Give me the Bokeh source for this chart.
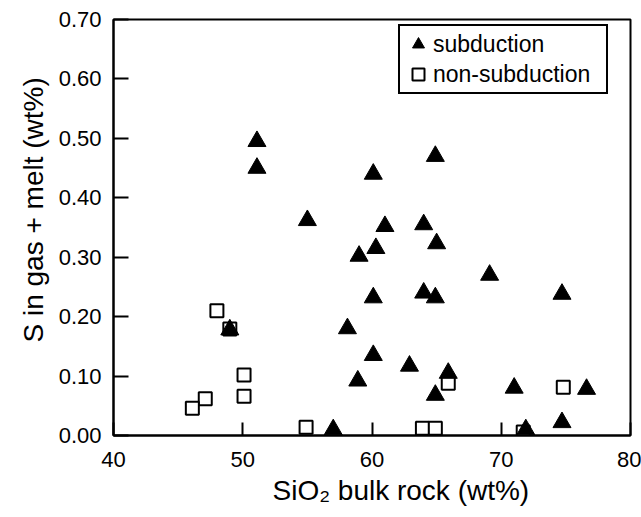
from bokeh.plotting import figure
from bokeh.models import Legend, LegendItem, FixedTicker, PrintfTickFormatter, Range1d, Title
from bokeh.embed import file_html
from bokeh.resources import INLINE

# ---- data ----
sub_sio2 = [51.1, 51.1, 55.0, 60.1, 64.9, 61.0, 64.0, 59.0, 60.3, 65.0, 69.1, 64.0, 64.9, 60.1,
            74.7, 58.1, 49.0, 60.1, 62.9, 58.9, 65.9, 64.9, 71.0, 76.6, 74.7, 57.0, 71.9]
sub_s = [0.495, 0.45, 0.362, 0.44, 0.47, 0.352, 0.355, 0.302, 0.315, 0.323, 0.27, 0.24, 0.232, 0.232,
         0.238, 0.18, 0.178, 0.135, 0.117, 0.092, 0.105, 0.068, 0.08, 0.078, 0.022, 0.01, 0.01]

non_sio2 = [48.0, 49.0, 50.1, 50.1, 47.1, 46.1, 54.9, 65.9, 74.8, 63.9, 64.9, 71.7]
non_s = [0.21, 0.179, 0.102, 0.066, 0.062, 0.046, 0.014, 0.088, 0.081, 0.012, 0.012, 0.006]

x_ticks = [40, 50, 60, 70, 80]
y_ticks = [0.0, 0.1, 0.2, 0.3, 0.4, 0.5, 0.6, 0.7]

x_title = "SiO₂ bulk rock (wt%)"
y_title = "S in gas + melt (wt%)"

FONT = "Liberation Sans"

p = figure(width=641, height=517, output_backend="svg", toolbar_location=None,
           x_range=Range1d(40, 80), y_range=Range1d(0, 0.70),
           min_border_left=113, min_border_right=11, min_border_top=19, min_border_bottom=82)

p.xgrid.visible = False
p.ygrid.visible = False
p.outline_line_color = "black"
p.outline_line_width = 2
p.background_fill_color = "white"
p.border_fill_color = "white"

sq = p.scatter(non_sio2, non_s, marker="square", size=13, fill_color="white",
               line_color="black", line_width=2)
tri = p.scatter(sub_sio2, sub_s, marker="triangle", size=18, fill_color="black",
                line_color="black", line_width=1)

for ax in (p.xaxis[0], p.yaxis[0]):
    ax.axis_line_width = 2
    ax.axis_line_color = "black"
    ax.major_tick_line_width = 2
    ax.major_tick_line_color = "black"
    ax.major_tick_out = 0
    ax.minor_tick_in = 0
    ax.minor_tick_out = 0
    ax.major_label_text_font = FONT
    ax.major_label_text_font_size = "22px"
    ax.major_label_text_color = "black"

p.xaxis[0].ticker = FixedTicker(ticks=x_ticks)
p.xaxis[0].major_tick_in = 13
p.xaxis[0].major_label_standoff = 16

p.yaxis[0].ticker = FixedTicker(ticks=y_ticks)
p.yaxis[0].formatter = PrintfTickFormatter(format="%.2f")
p.yaxis[0].major_tick_in = 15
p.yaxis[0].major_label_standoff = 12

# axis titles (slightly off-centre as in the reference)
p.add_layout(Title(text=x_title, align="left", offset=159, standoff=7,
                   text_font=FONT, text_font_size="28px", text_font_style="normal",
                   text_color="black"), "below")
p.add_layout(Title(text=y_title, align="left", offset=93, standoff=10,
                   vertical_align="top",
                   text_font=FONT, text_font_size="28px", text_font_style="normal",
                   text_color="black"), "left")

legend = Legend(items=[LegendItem(label="subduction", renderers=[tri]),
                       LegendItem(label="non-subduction", renderers=[sq])],
                location=(285, 341))
legend.label_text_font = FONT
legend.label_text_font_size = "23px"
legend.label_text_color = "black"
legend.glyph_width = 30
legend.glyph_height = 30
legend.label_height = 30
legend.label_width = 170
legend.label_standoff = 0
legend.spacing = 0
legend.padding = 3
legend.margin = 0
legend.border_line_color = "black"
legend.border_line_width = 2
legend.border_line_alpha = 1
legend.background_fill_color = "white"
legend.background_fill_alpha = 1
p.add_layout(legend)

open("out.html", "w").write(file_html(p, INLINE))
